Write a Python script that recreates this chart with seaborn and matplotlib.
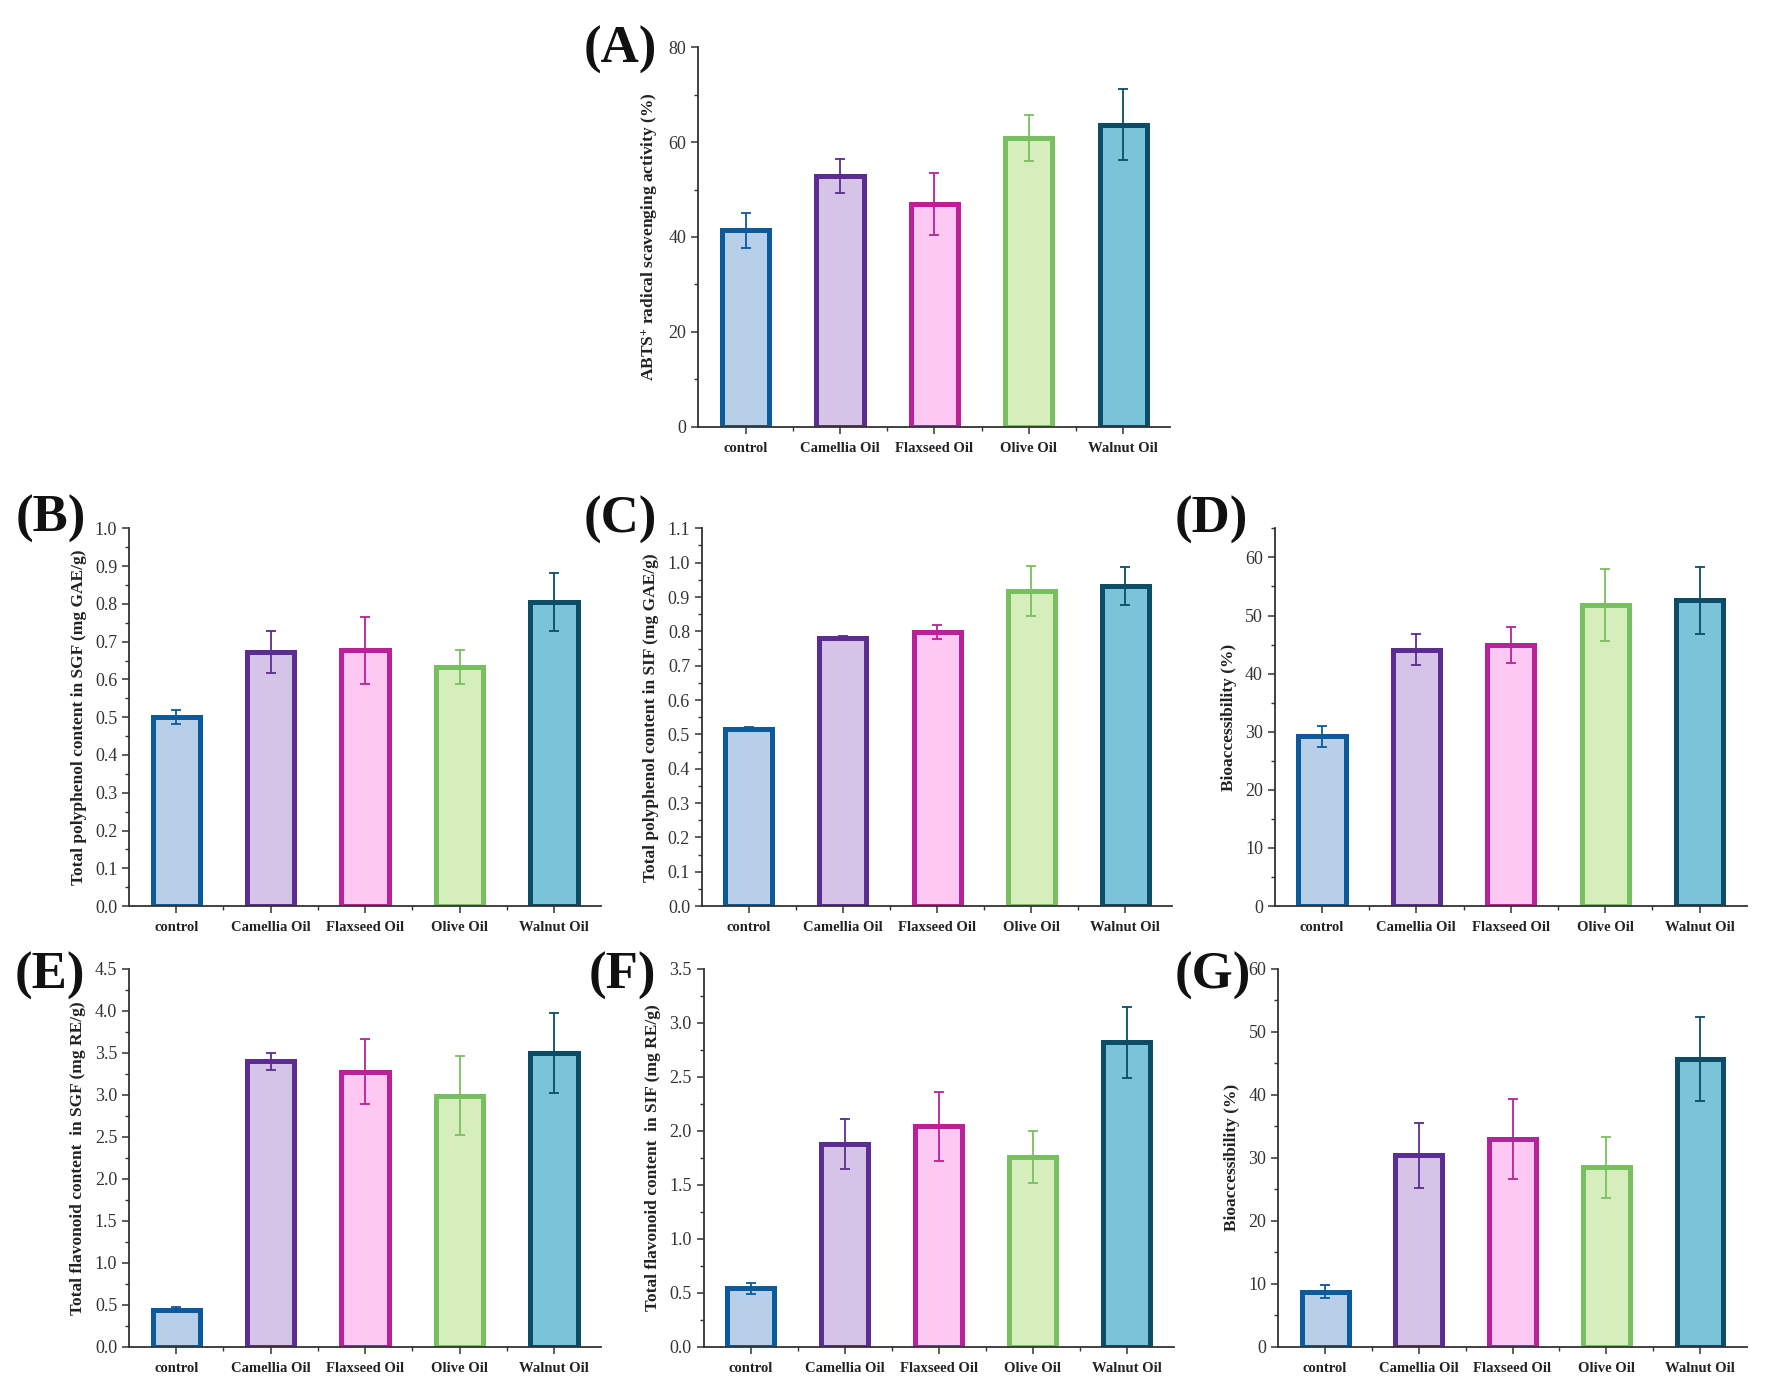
import numpy as np
import pandas as pd
import matplotlib
matplotlib.use("Agg")
import matplotlib.pyplot as plt
from matplotlib.ticker import MultipleLocator, FixedLocator
import seaborn as sns

# categories and colours
oils = ["control", "Camellia Oil", "Flaxseed Oil", "Olive Oil", "Walnut Oil"]
fill_colors = ["#B8CFEA", "#D5C4E8", "#FDC9F2", "#D6EDBC", "#7BC3D8"]
edge_colors = ["#0A5A9C", "#5B2C91", "#BA2198", "#77BF5F", "#0B4C66"]

# (A) ABTS+ radical scavenging activity
abts_mean = [41.4, 52.8, 47.0, 60.9, 63.7]
abts_sd = [3.7, 3.6, 6.5, 4.8, 7.5]
# (B) polyphenol SGF
tpc_sgf_mean = [0.50, 0.673, 0.677, 0.634, 0.805]
tpc_sgf_sd = [0.018, 0.056, 0.088, 0.045, 0.078]
# (C) polyphenol SIF
tpc_sif_mean = [0.517, 0.782, 0.799, 0.918, 0.932]
tpc_sif_sd = [0.005, 0.005, 0.02, 0.072, 0.055]
# (D) polyphenol bioaccessibility
tpc_bio_mean = [29.2, 44.1, 44.9, 51.8, 52.6]
tpc_bio_sd = [1.8, 2.7, 3.1, 6.2, 5.7]
# (E) flavonoid SGF
tfc_sgf_mean = [0.44, 3.40, 3.275, 2.99, 3.50]
tfc_sgf_sd = [0.03, 0.10, 0.385, 0.47, 0.475]
# (F) flavonoid SIF
tfc_sif_mean = [0.54, 1.88, 2.04, 1.76, 2.82]
tfc_sif_sd = [0.05, 0.23, 0.32, 0.24, 0.33]
# (G) flavonoid bioaccessibility
tfc_bio_mean = [8.7, 30.4, 33.0, 28.5, 45.7]
tfc_bio_sd = [1.05, 5.15, 6.4, 4.85, 6.7]

sns.set_style("ticks")
plt.rcParams["font.family"] = ["Liberation Serif", "DejaVu Serif"]
plt.rcParams["mathtext.default"] = "regular"

TXT = "#333333"

panels = [
    # letter, axes rect, mean, sd, ylim, major, minor, ylabel, fmt
    ("(A)", [0.395, 0.694, 0.267, 0.272], abts_mean, abts_sd, (0, 80), 20, 10,
     r"ABTS$^{+}$ radical scavenging activity (%)", "{:.0f}"),
    ("(B)", [0.073, 0.350, 0.267, 0.271], tpc_sgf_mean, tpc_sgf_sd, (0, 1.0), 0.1, 0.05,
     "Total polyphenol content in SGF (mg GAE/g)", "{:.1f}"),
    ("(C)", [0.397, 0.350, 0.266, 0.271], tpc_sif_mean, tpc_sif_sd, (0, 1.1), 0.1, 0.05,
     "Total polyphenol content in SIF (mg GAE/g)", "{:.1f}"),
    ("(D)", [0.721, 0.350, 0.267, 0.271], tpc_bio_mean, tpc_bio_sd, (0, 65), 10, 5,
     "Bioaccessibility (%)", "{:.0f}"),
    ("(E)", [0.073, 0.034, 0.267, 0.271], tfc_sgf_mean, tfc_sgf_sd, (0, 4.5), 0.5, 0.25,
     "Total flavonoid content  in SGF (mg RE/g)", "{:.1f}"),
    ("(F)", [0.398, 0.034, 0.266, 0.271], tfc_sif_mean, tfc_sif_sd, (0, 3.5), 0.5, 0.25,
     "Total flavonoid content  in SIF (mg RE/g)", "{:.1f}"),
    ("(G)", [0.723, 0.034, 0.265, 0.271], tfc_bio_mean, tfc_bio_sd, (0, 60), 10, 5,
     "Bioaccessibility (%)", "{:.0f}"),
]

letter_pos = {
    "(A)": (0.351, 0.964), "(B)": (0.029, 0.628), "(C)": (0.351, 0.627),
    "(D)": (0.685, 0.627), "(E)": (0.028, 0.300), "(F)": (0.352, 0.300),
    "(G)": (0.686, 0.300),
}

fig = plt.figure(figsize=(17.68, 13.94), dpi=100)

for letter, rect, mean, sd, ylim, major, minor, ylabel, fmt in panels:
    ax = fig.add_axes(rect)
    df = pd.DataFrame({"oil": oils, "value": mean})
    sns.barplot(data=df, x="oil", y="value", hue="oil", palette=fill_colors,
                order=oils, hue_order=oils, width=0.5, errorbar=None,
                saturation=1, legend=False, ax=ax, zorder=2)
    for patch, ec in zip(ax.patches, edge_colors):
        patch.set_edgecolor(ec)
        patch.set_linewidth(3.6)
    for i, (m, s) in enumerate(zip(mean, sd)):
        ax.errorbar(i, m, yerr=s, color=edge_colors[i], elinewidth=1.3,
                    capsize=3.5, capthick=1.3, zorder=3)

    ax.set_xlim(-0.5, 4.5)
    ax.set_ylim(*ylim)
    ax.yaxis.set_minor_locator(MultipleLocator(minor))
    ax.xaxis.set_minor_locator(FixedLocator([0.5, 1.5, 2.5, 3.5]))
    ax.set_yticks([t for t in np.arange(ylim[0], ylim[1] + 1e-9, major)])
    ax.set_yticklabels([fmt.format(t) for t in ax.get_yticks()])
    ax.set_xlabel("")
    ax.set_ylabel(ylabel, fontsize=12.5, fontweight="bold", color="#222222",
                  labelpad=6)

    sns.despine(ax=ax)
    for sp in ["left", "bottom"]:
        ax.spines[sp].set_linewidth(1.3)
        ax.spines[sp].set_color(TXT)
    ax.tick_params(axis="y", which="major", length=5, width=1.1, colors=TXT,
                   labelsize=13, labelcolor=TXT)
    ax.tick_params(axis="y", which="minor", length=3, width=1.0, colors=TXT)
    ax.tick_params(axis="x", which="major", length=5, width=1.1, colors=TXT,
                   labelsize=10.5, labelcolor="#222222", pad=6)
    ax.tick_params(axis="x", which="minor", length=3, width=1.0, colors=TXT)
    for lab in ax.get_xticklabels():
        lab.set_fontweight("bold")

    x, y = letter_pos[letter]
    fig.text(x, y, letter, fontsize=38, fontweight="bold", ha="center",
             va="center", color="#111111")

fig.savefig("out.png", dpi=100, facecolor="white")
